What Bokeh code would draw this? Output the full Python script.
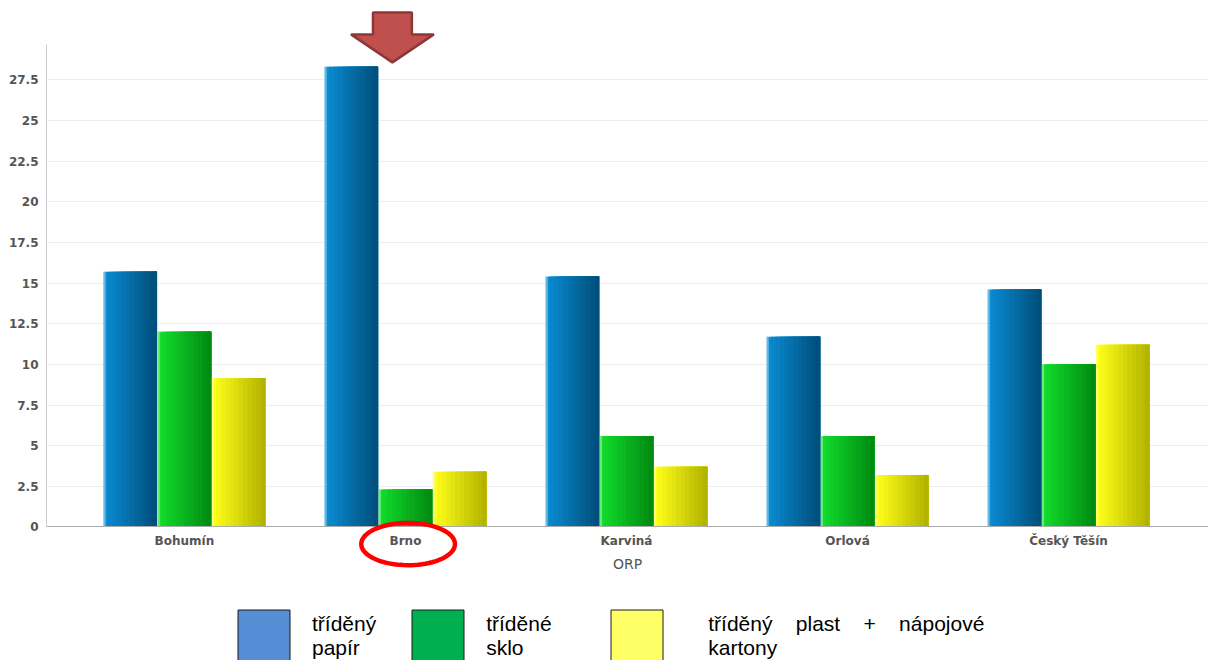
import numpy as np
from bokeh.plotting import figure
from bokeh.models import (ColumnDataSource, Range1d, FixedTicker, Legend, LegendItem,
                          PolyAnnotation)
from bokeh.embed import file_html
from bokeh.resources import INLINE

# ---------------- data ----------------
categories = ["Bohumín", "Brno", "Karviná", "Orlová", "Český Těšín"]
papir = [15.7, 28.3, 15.4, 11.7, 14.6]
sklo = [12.0, 2.3, 5.6, 5.6, 10.0]
plast = [9.15, 3.4, 3.7, 3.2, 11.2]
y_ticks = [0, 2.5, 5, 7.5, 10, 12.5, 15, 17.5, 20, 22.5, 25, 27.5]
x_axis_label = "ORP"
legend_labels = ["tříděný\npapír",
                 "tříděné    \nsklo",
                 "    tříděný    plast    +    nápojové\n    kartony"]
highlight = "Brno"

# ---------------- styles ----------------
bar_grad = [("#0A8CD2", "#004F7C"), ("#12DC2C", "#028C12"), ("#FFFF1A", "#B4B400")]
legend_colors = ["#558ED5", "#00B050", "#FFFF66"]
offsets = [-0.245, 0.0, 0.245]
bar_w = 0.242
n_strips = 12

p = figure(width=1208, height=660, output_backend="svg", toolbar_location=None,
           x_range=Range1d(-0.624, 4.633), y_range=Range1d(-8.21, 31.76),
           min_border_left=46, min_border_right=0, min_border_top=10, min_border_bottom=0)
p.outline_line_color = None
p.xgrid.grid_line_color = None
p.ygrid.grid_line_color = "#EDEDED"
p.ygrid.ticker = FixedTicker(ticks=y_ticks)

idx = np.arange(len(categories))


def mix(c1, c2, t):
    a = [int(c1[i:i + 2], 16) for i in (1, 3, 5)]
    b = [int(c2[i:i + 2], 16) for i in (1, 3, 5)]
    return "#%02x%02x%02x" % tuple(int(round(a[j] + (b[j] - a[j]) * t)) for j in range(3))


for s, vals in enumerate([papir, sklo, plast]):
    c_left, c_right = bar_grad[s]
    sw = bar_w / n_strips
    right = idx + offsets[s] + bar_w / 2
    for k in range(n_strips):
        left = idx + offsets[s] - bar_w / 2 + k * sw
        src = ColumnDataSource(dict(left=left, right=right, top=vals))
        p.quad(left="left", right="right", top="top", bottom=0, source=src,
               fill_color=mix(c_left, c_right, k / (n_strips - 1)), line_color=None)
    # light left edge
    src = ColumnDataSource(dict(x=idx + offsets[s] - bar_w / 2 + 0.005, top=vals))
    p.vbar(x="x", top="top", width=0.009, source=src, fill_color="white",
           fill_alpha=0.4, line_color=None)

# legend (proxy renderers carrying the legend colours, placed outside the visible ranges)
items = []
for lab, col in zip(legend_labels, legend_colors):
    r = p.rect(x=[-50], y=[-50], width=1, height=1, fill_color=col, line_color="#1a1a1a",
               line_width=1)
    items.append(LegendItem(label=lab, renderers=[r]))
legend = Legend(items=items, orientation="horizontal", location=(185, -8),
                glyph_width=65, glyph_height=65, label_standoff=16, spacing=29,
                padding=0, margin=0, border_line_color=None, background_fill_alpha=0,
                label_text_font="Liberation Sans", label_text_font_size="21px",
                label_text_color="#000000", label_text_line_height=1.12)
p.add_layout(legend, "center")

# axes
p.yaxis.ticker = FixedTicker(ticks=y_ticks)
p.yaxis.bounds = (0, 29.7)
p.yaxis.axis_line_color = "#CCCCCC"
p.yaxis.major_tick_line_color = None
p.yaxis.major_tick_out = 0
p.yaxis.minor_tick_line_color = None
p.yaxis.major_label_standoff = 8
p.yaxis.major_label_text_font = "DejaVu Sans"
p.yaxis.major_label_text_font_style = "bold"
p.yaxis.major_label_text_font_size = "12px"
p.yaxis.major_label_text_color = "#555555"

p.xaxis.fixed_location = 0
p.xaxis.ticker = FixedTicker(ticks=list(idx))
p.xaxis.major_label_overrides = {int(i): c for i, c in zip(idx, categories)}
p.xaxis.axis_line_color = "#AAAAAA"
p.xaxis.major_tick_line_color = None
p.xaxis.major_tick_out = 0
p.xaxis.minor_tick_line_color = None
p.xaxis.major_label_standoff = 7
p.xaxis.major_label_text_font = "DejaVu Sans"
p.xaxis.major_label_text_font_style = "bold"
p.xaxis.major_label_text_font_size = "12px"
p.xaxis.major_label_text_color = "#555555"
p.xaxis.axis_label = x_axis_label
p.xaxis.axis_label_text_font = "DejaVu Sans"
p.xaxis.axis_label_text_font_style = "normal"
p.xaxis.axis_label_text_font_size = "14px"
p.xaxis.axis_label_text_color = "#555555"
p.xaxis.axis_label_standoff = 5

# arrow pointing at the highlighted bar
hi = categories.index(highlight)
tip_x = hi - 0.059
tip_y = papir[hi] + 0.27
hw, hh, sw2, sh = 0.1875, 1.72, 0.088, 1.35
ax = [tip_x, tip_x - hw, tip_x - sw2, tip_x - sw2, tip_x + sw2, tip_x + sw2, tip_x + hw]
ay = [tip_y, tip_y + hh, tip_y + hh, tip_y + hh + sh, tip_y + hh + sh, tip_y + hh, tip_y + hh]
p.add_layout(PolyAnnotation(xs=ax, ys=ay, fill_color="#C0504D", fill_alpha=1,
                            line_color="#8C3836", line_alpha=1, line_width=2.5))

# red ellipse around the highlighted category label
t = np.linspace(0, 2 * np.pi, 80)
ex = hi + 0.012 + 0.212 * np.cos(t)
ey = -1.05 + 1.3 * np.sin(t)
p.add_layout(PolyAnnotation(xs=list(ex), ys=list(ey), fill_alpha=0,
                            line_color="#FF0000", line_alpha=1, line_width=4.5))

open("out.html", "w").write(file_html(p, INLINE))
